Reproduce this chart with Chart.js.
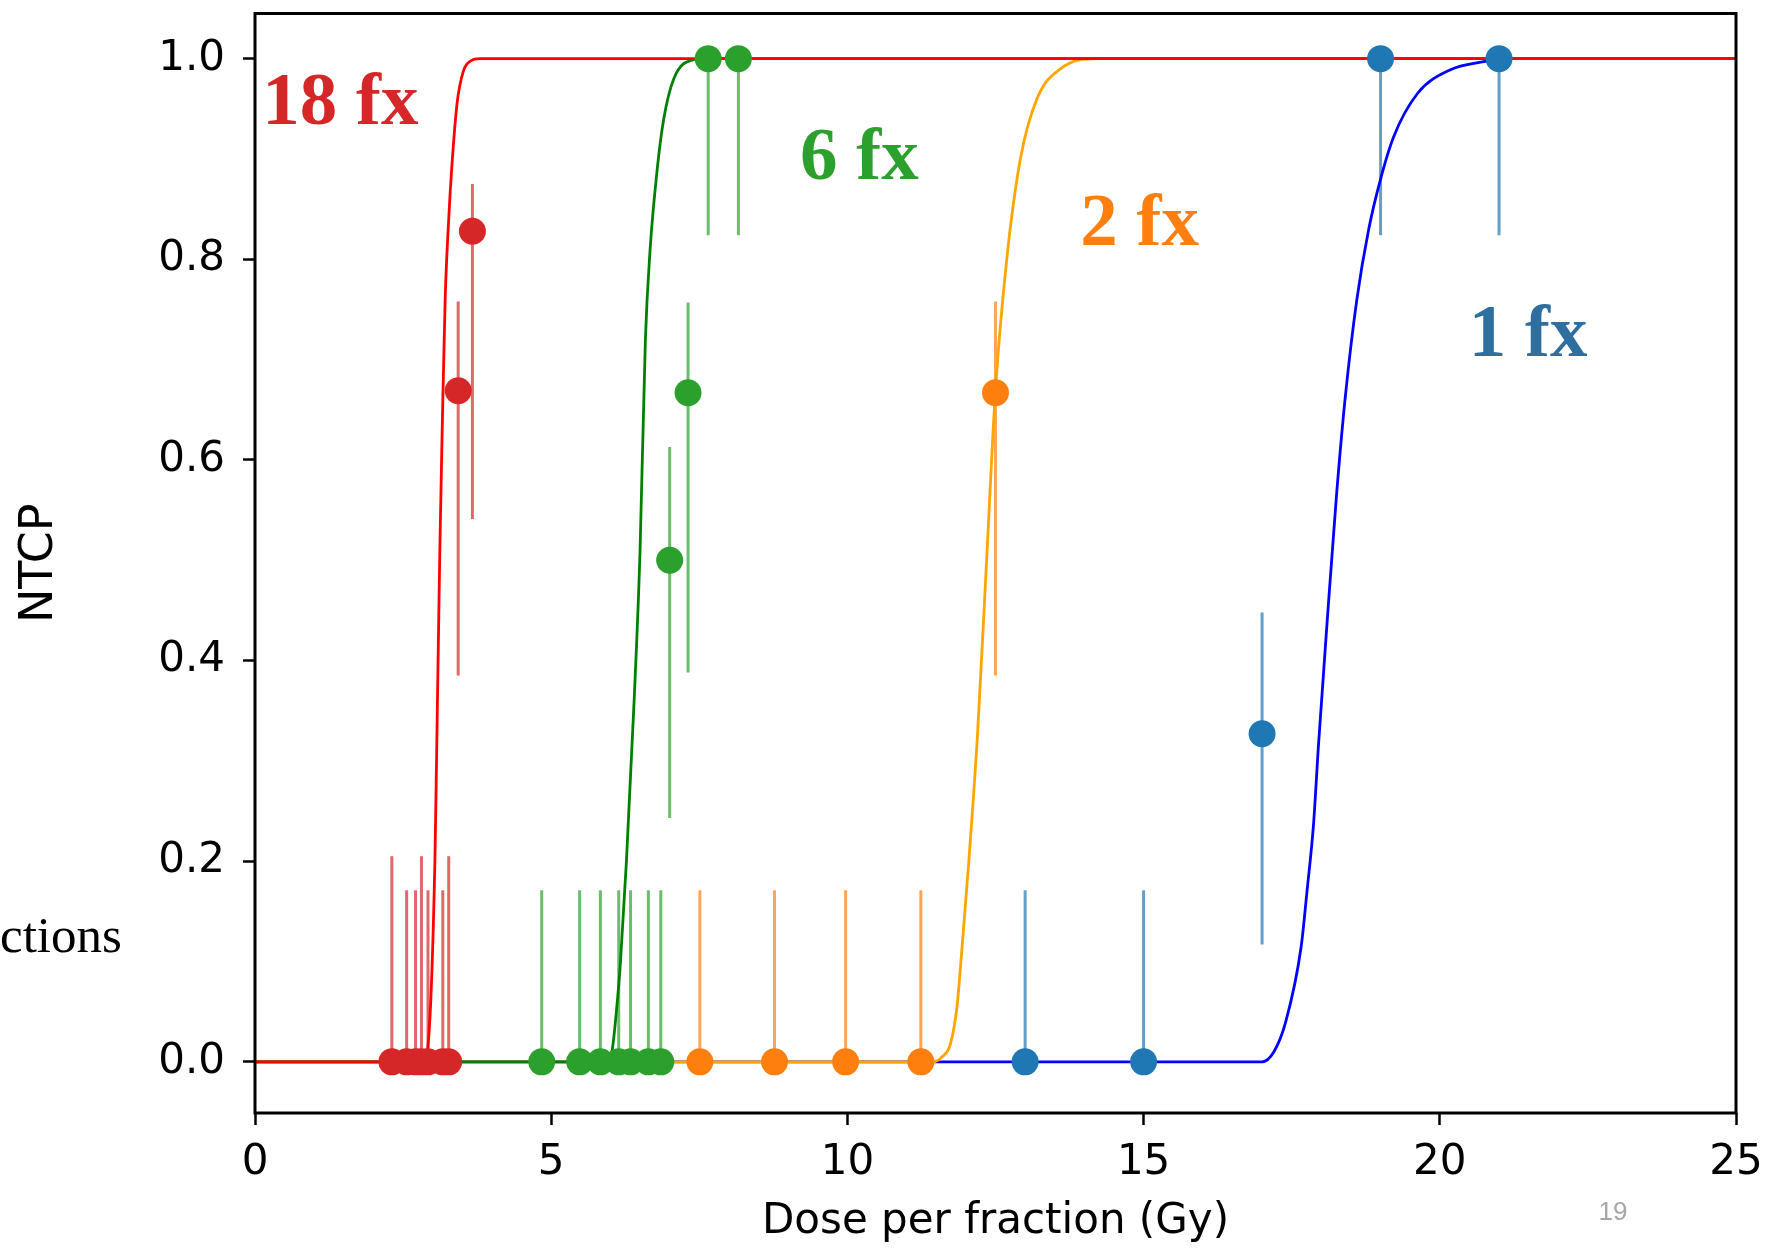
<!DOCTYPE html>
<html>
<head>
<meta charset="utf-8">
<script src="https://cdn.jsdelivr.net/npm/chart.js@4.4.0/dist/chart.umd.min.js"></script>
<style>
  html, body { margin: 0; padding: 0; background: #fff; }
  #wrap { position: relative; width: 1767px; height: 1248px; }
</style>
</head>
<body>
<div id="wrap"><canvas id="grafica"></canvas></div>
<script>
// axis limits and ticks
const xLim = [0, 25]
const yLim = [-0.051, 1.045]
const xTicks = [0, 5, 10, 15, 20, 25]
const yTicks = [0.0, 0.2, 0.4, 0.6, 0.8, 1.0]

// 18 fx - observed points and error bars
const rojoX  = [2.31, 2.56, 2.71, 2.81, 2.92, 3.17, 3.27, 3.43, 3.67]
const rojoY  = [0, 0, 0, 0, 0, 0, 0, 0.669, 0.828]
const rojoLo = [0, 0, 0, 0, 0, 0, 0, 0.385, 0.541]
const rojoHi = [0.205, 0.171, 0.171, 0.205, 0.171, 0.171, 0.205, 0.758, 0.875]

// 6 fx
const verdeX  = [4.84, 5.48, 5.83, 6.14, 6.34, 6.64, 6.85, 7.0, 7.31, 7.65, 8.16]
const verdeY  = [0, 0, 0, 0, 0, 0, 0, 0.5, 0.667, 1, 1]
const verdeLo = [0, 0, 0, 0, 0, 0, 0, 0.243, 0.388, 0.824, 0.824]
const verdeHi = [0.171, 0.171, 0.171, 0.171, 0.171, 0.171, 0.171, 0.613, 0.757, 1, 1]

// 2 fx
const naranjaX  = [7.51, 8.77, 9.97, 11.24, 12.5]
const naranjaY  = [0, 0, 0, 0, 0.667]
const naranjaLo = [0, 0, 0, 0, 0.385]
const naranjaHi = [0.171, 0.171, 0.171, 0.171, 0.758]

// 1 fx
const azulX  = [13.0, 15.0, 17.0, 19.0, 21.0]
const azulY  = [0, 0, 0.327, 1, 1]
const azulLo = [0, 0, 0.117, 0.824, 0.824]
const azulHi = [0.171, 0.171, 0.448, 1, 1]

// fitted curves
const curvaRojaX = [0, 2.85, 2.91, 2.98, 3.04, 3.08, 3.12, 3.16, 3.21, 3.27, 3.32, 3.41, 3.52, 3.65, 3.8, 25]
const curvaRojaY = [0, 0, 0.01, 0.08, 0.21, 0.36, 0.51, 0.63, 0.76, 0.84, 0.89, 0.955, 0.988, 0.998, 1, 1]

const curvaVerdeX = [0, 5.95, 6.03, 6.1, 6.17, 6.27, 6.4, 6.5, 6.59, 6.67, 6.79, 6.9, 7.07, 7.4, 7.6, 25]
const curvaVerdeY = [0, 0, 0.012, 0.05, 0.1, 0.2, 0.36, 0.51, 0.72, 0.81, 0.89, 0.94, 0.98, 0.999, 1, 1]

const curvaNaranjaX = [0, 11.45, 11.6, 11.74, 11.85, 11.93, 12.05, 12.2, 12.35, 12.5, 12.69, 12.92, 13.2, 13.6, 14.2, 25]
const curvaNaranjaY = [0, 0, 0.005, 0.018, 0.055, 0.11, 0.2, 0.33, 0.5, 0.67, 0.8, 0.9, 0.96, 0.99, 1, 1]

const curvaAzulX = [0, 17.0, 17.2, 17.4, 17.66, 17.76, 17.87, 17.95, 18.1, 18.25, 18.4, 18.6, 18.8, 19.0, 19.22, 19.62, 20.18, 20.74, 21.2, 25]
const curvaAzulY = [0, 0, 0.01, 0.04, 0.115, 0.171, 0.238, 0.314, 0.44, 0.56, 0.66, 0.76, 0.83, 0.88, 0.922, 0.965, 0.989, 0.997, 1, 1]

// in-plot labels
const etiquetas  = ['18 fx', '6 fx', '2 fx', '1 fx']
const etiquetaX  = [0.124, 9.2, 13.93, 20.49]
const etiquetaY  = [0.935, 0.880, 0.814, 0.704]
const etiquetaColor = ['#d62728', '#2ca02c', '#ff7f0e', '#2f6fa0']

const pares = (xs, ys) => xs.map((v, i) => ({ x: v, y: ys[i] }))

const grupos = [
  { xs: rojoX, lo: rojoLo, hi: rojoHi, barra: 'rgba(214, 39, 40, 0.7)' },
  { xs: verdeX, lo: verdeLo, hi: verdeHi, barra: 'rgba(44, 160, 44, 0.7)' },
  { xs: naranjaX, lo: naranjaLo, hi: naranjaHi, barra: 'rgba(255, 127, 14, 0.7)' },
  { xs: azulX, lo: azulLo, hi: azulHi, barra: 'rgba(31, 119, 180, 0.7)' }
]

const barrasError = {
  id: 'barrasError',
  beforeDatasetsDraw(chart) {
    const c = chart.ctx, sx = chart.scales.x, sy = chart.scales.y
    c.save()
    c.lineWidth = 3
    c.lineCap = 'butt'
    grupos.forEach(g => {
      c.strokeStyle = g.barra
      g.xs.forEach((v, i) => {
        const px = sx.getPixelForValue(v)
        c.beginPath()
        c.moveTo(px, sy.getPixelForValue(g.lo[i]))
        c.lineTo(px, sy.getPixelForValue(g.hi[i]))
        c.stroke()
      })
    })
    c.restore()
  }
}

const marco = {
  id: 'marco',
  afterDatasetsDraw(chart) {
    const c = chart.ctx, a = chart.chartArea, sx = chart.scales.x, sy = chart.scales.y
    c.save()
    // labels inside the axes
    c.font = 'bold 75px "Liberation Serif", "Times New Roman", serif'
    c.textBaseline = 'alphabetic'
    c.textAlign = 'left'
    etiquetas.forEach((t, i) => {
      c.fillStyle = etiquetaColor[i]
      c.fillText(t, sx.getPixelForValue(etiquetaX[i]), sy.getPixelForValue(etiquetaY[i]))
    })
    // frame
    c.strokeStyle = '#000'
    c.lineWidth = 3
    c.strokeRect(a.left, a.top, a.right - a.left, a.bottom - a.top)
    c.restore()
  },
  afterDraw(chart) {
    const c = chart.ctx
    c.save()
    c.fillStyle = '#000'
    c.font = '51px "Liberation Serif", "Times New Roman", serif'
    c.textBaseline = 'alphabetic'
    c.fillText('ctions', 0, 952)
    c.fillStyle = '#a6a6a6'
    c.font = '26px "Liberation Sans", Arial, sans-serif'
    c.textAlign = 'center'
    c.textBaseline = 'middle'
    c.fillText('19', 1613, 1213)
    c.restore()
  }
}

var ctx = document.getElementById('grafica').getContext('2d')
window.grafica = new Chart(ctx, {
  type: 'scatter',
  data: {
    datasets: [
      { type: 'line', data: pares(curvaAzulX, curvaAzulY), borderColor: '#0000ff', borderWidth: 2.8, pointRadius: 0, fill: false, cubicInterpolationMode: 'monotone', order: 10 },
      { type: 'line', data: pares(curvaNaranjaX, curvaNaranjaY), borderColor: '#ffa500', borderWidth: 2.8, pointRadius: 0, fill: false, cubicInterpolationMode: 'monotone', order: 9 },
      { type: 'line', data: pares(curvaVerdeX, curvaVerdeY), borderColor: '#008000', borderWidth: 2.8, pointRadius: 0, fill: false, cubicInterpolationMode: 'monotone', order: 8 },
      { type: 'line', data: pares(curvaRojaX, curvaRojaY), borderColor: '#ff0000', borderWidth: 2.8, pointRadius: 0, fill: false, cubicInterpolationMode: 'monotone', order: 7 },
      { data: pares(azulX, azulY), backgroundColor: '#1f77b4', pointRadius: 13.5, borderWidth: 0, order: 4 },
      { data: pares(naranjaX, naranjaY), backgroundColor: '#ff7f0e', pointRadius: 13.5, borderWidth: 0, order: 3 },
      { data: pares(verdeX, verdeY), backgroundColor: '#2ca02c', pointRadius: 13.5, borderWidth: 0, order: 2 },
      { data: pares(rojoX, rojoY), backgroundColor: '#d62728', pointRadius: 13.5, borderWidth: 0, order: 1 }
    ]
  },
  options: {
    responsive: true,
    maintainAspectRatio: false,
    animation: false,
    events: [],
    layout: { padding: { top: 4, right: 31, left: 0, bottom: 0 } },
    plugins: { legend: { display: false }, tooltip: { enabled: false } },
    scales: {
      x: {
        type: 'linear',
        min: xLim[0],
        max: xLim[1],
        afterBuildTicks: s => { s.ticks = xTicks.map(v => ({ value: v })) },
        afterFit: s => { s.height = 135; s.paddingLeft = 0; s.paddingRight = 0 },
        border: { display: false },
        grid: { drawOnChartArea: false, drawTicks: true, tickLength: 12, tickWidth: 2.5, tickColor: '#000' },
        ticks: { color: '#000', padding: 13, font: { family: 'DejaVu Sans', size: 42 }, maxRotation: 0, callback: v => String(v) },
        title: { display: true, text: 'Dose per fraction (Gy)', color: '#000', font: { family: 'DejaVu Sans', size: 42, lineHeight: 1.2 }, padding: { top: 0, bottom: 1 } }
      },
      y: {
        type: 'linear',
        min: yLim[0],
        max: yLim[1],
        afterBuildTicks: s => { s.ticks = yTicks.map(v => ({ value: v })) },
        afterFit: s => { s.width = 255; s.paddingTop = 0; s.paddingBottom = 0 },
        border: { display: false },
        grid: { drawOnChartArea: false, drawTicks: true, tickLength: 12, tickWidth: 2.5, tickColor: '#000' },
        ticks: { color: '#000', padding: 18, font: { family: 'DejaVu Sans', size: 42 }, callback: v => v.toFixed(1) },
        title: { display: true, text: 'NTCP', color: '#000', font: { family: 'DejaVu Sans', size: 46, lineHeight: 1.2 }, padding: { top: 12, bottom: 0 } }
      }
    }
  },
  plugins: [barrasError, marco]
})
</script>
</body>
</html>
